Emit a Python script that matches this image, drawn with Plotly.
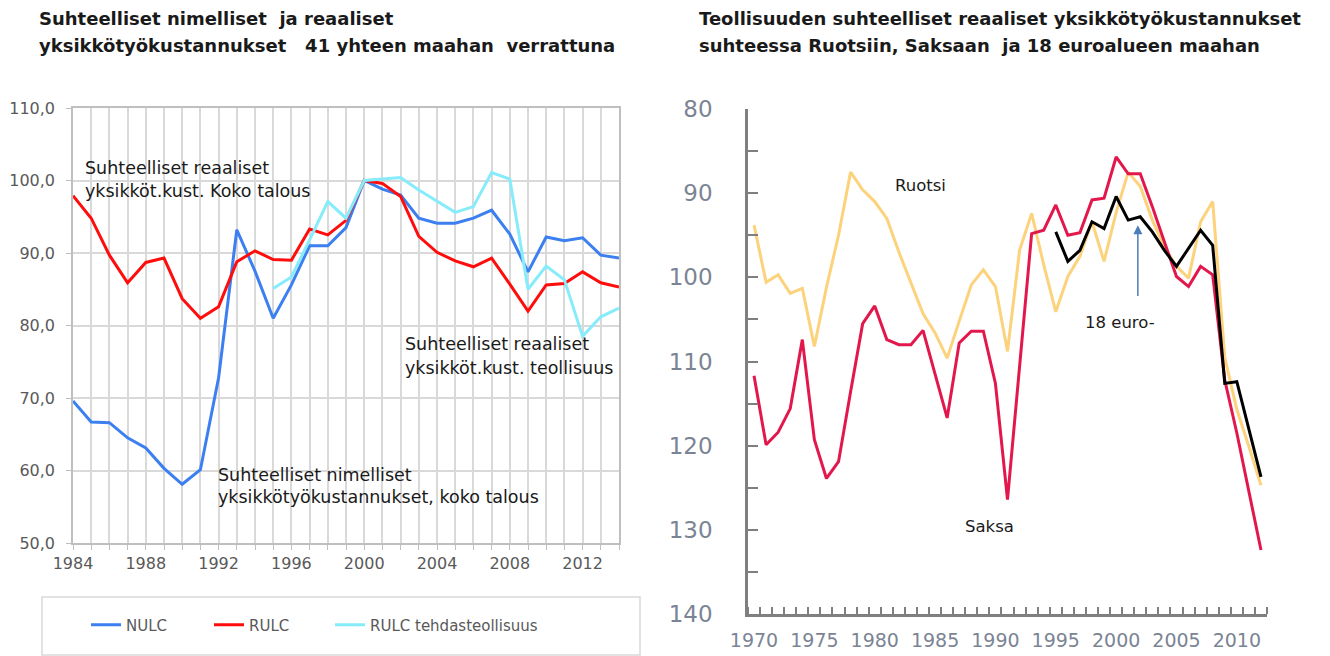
import plotly.graph_objects as go

# ---------------- Left chart data ----------------
years_left = list(range(1984, 2015))
nulc = [69.6, 66.7, 66.6, 64.5, 63.1, 60.3, 58.1, 60.1, 72.8, 93.2, 87.5, 81.0,
        85.6, 91.0, 91.0, 93.5, 100.0, 98.8, 98.0, 94.8, 94.1, 94.1, 94.8, 95.9,
        92.6, 87.4, 92.2, 91.7, 92.1, 89.7, 89.3]
rulc = [97.9, 94.8, 89.7, 85.9, 88.7, 89.3, 83.7, 81.0, 82.6, 88.8, 90.3, 89.1,
        89.0, 93.3, 92.5, 94.5, 100.0, 99.6, 97.8, 92.3, 90.1, 88.9, 88.1, 89.3,
        85.7, 82.0, 85.6, 85.8, 87.4, 85.9, 85.3]
years_teh = list(range(1995, 2015))
rulc_teh = [85.1, 86.7, 91.8, 97.1, 94.8, 100.0, 100.2, 100.4, 98.7, 97.1, 95.6,
            96.4, 101.1, 100.2, 85.0, 88.2, 86.3, 78.5, 81.2, 82.4]
left_yticks = [50, 60, 70, 80, 90, 100, 110]
left_yticktext = ["50,0", "60,0", "70,0", "80,0", "90,0", "100,0", "110,0"]
left_xticks = [1984, 1988, 1992, 1996, 2000, 2004, 2008, 2012]

# ---------------- Right chart data ----------------
years_right = list(range(1970, 2013))
saksa = [111.7, 119.9, 118.4, 115.6, 107.4, 119.3, 123.9, 121.9, 113.6, 105.5,
         103.4, 107.4, 108.0, 108.0, 106.3, 111.4, 116.7, 107.8, 106.4, 106.4,
         112.6, 126.4, 110.5, 94.8, 94.4, 91.4, 95.0, 94.7, 90.8, 90.6,
         85.7, 87.7, 87.7, 91.6, 95.8, 99.9, 101.1, 98.7, 99.7, 112.2,
         118.5, 125.4, 132.4]
ruotsi = [93.8, 100.6, 99.7, 101.9, 101.3, 108.2, 101.2, 95.0, 87.5, 89.6,
          91.0, 93.0, 97.0, 100.7, 104.3, 106.6, 109.6, 105.2, 100.9, 99.1,
          101.1, 108.8, 96.8, 92.4, 98.5, 104.1, 99.9, 97.5, 93.4, 98.1,
          92.3, 87.5, 89.2, 93.2, 96.4, 98.7, 100.1, 93.4, 91.0, 109.5,
          115.7, 120.1, 124.7]
years_euro = list(range(1995, 2013))
euro18 = [94.6, 98.1, 96.8, 93.4, 94.2, 90.4, 93.2, 92.8, 94.6, 96.8,
          98.7, 96.5, 94.4, 96.2, 112.6, 112.4, 118.1, 123.7]
right_yticks = [80, 90, 100, 110, 120, 130, 140]
right_xticks = [1970, 1975, 1980, 1985, 1990, 1995, 2000, 2005, 2010]

W, H = 1330, 656
def px(x):
    return x / W
def py(y):
    return 1 - y / H

FONT = "DejaVu Sans"
fig = go.Figure()

fig.add_trace(go.Scatter(x=years_left, y=nulc, mode="lines", name="NULC", legend="legend",
                         line=dict(color="#3b7ff0", width=3), xaxis="x", yaxis="y"))
fig.add_trace(go.Scatter(x=years_left, y=rulc, mode="lines", name="RULC", legend="legend2",
                         line=dict(color="#ff0d0d", width=3), xaxis="x", yaxis="y"))
fig.add_trace(go.Scatter(x=years_teh, y=rulc_teh, mode="lines", name="RULC tehdasteollisuus",
                         legend="legend3",
                         line=dict(color="#86ecfb", width=3), xaxis="x", yaxis="y"))

fig.add_trace(go.Scatter(x=years_right, y=ruotsi, mode="lines", name="Ruotsi", showlegend=False,
                         line=dict(color="#fdd27c", width=3), xaxis="x2", yaxis="y2"))
fig.add_trace(go.Scatter(x=years_right, y=saksa, mode="lines", name="Saksa", showlegend=False,
                         line=dict(color="#e2184c", width=3), xaxis="x2", yaxis="y2"))
fig.add_trace(go.Scatter(x=years_euro, y=euro18, mode="lines", name="18 euroalueen maata",
                         showlegend=False, line=dict(color="#000000", width=3),
                         xaxis="x2", yaxis="y2"))

grid = "#d9d9d9"
leg_common = dict(orientation="h", xanchor="left", yanchor="middle", y=py(625),
                  font=dict(size=15, color="#595959", family=FONT),
                  bgcolor="rgba(0,0,0,0)", borderwidth=0, itemwidth=30)
fig.update_layout(
    width=W, height=H,
    margin=dict(l=0, r=0, t=0, b=0, pad=0),
    paper_bgcolor="white", plot_bgcolor="rgba(0,0,0,0)",
    font=dict(family=FONT, color="#595959"),
    xaxis=dict(domain=[px(73), px(619)], range=[1984, 2014], tickvals=left_xticks,
               showgrid=True, gridcolor=grid, gridwidth=1.5, zeroline=False,
               ticks="outside", ticklen=5, tickcolor="#bfbfbf", automargin=False,
               minor=dict(dtick=1, tick0=1984, showgrid=True, gridcolor=grid, gridwidth=1.5,
                          ticks="outside", ticklen=5, tickcolor="#bfbfbf"),
               showline=True, linecolor="#bfbfbf", linewidth=1.5, mirror=True,
               tickfont=dict(size=16, color="#595959"), anchor="y"),
    yaxis=dict(domain=[py(543), py(108)], range=[50, 110], tickvals=left_yticks,
               ticktext=left_yticktext, showgrid=True, gridcolor=grid, gridwidth=1.5,
               zeroline=False, ticks="outside", ticklen=5, tickcolor="#bfbfbf",
               showline=True, linecolor="#bfbfbf", linewidth=1.5, mirror=True,
               automargin=False, ticklabelstandoff=8,
               tickfont=dict(size=16, color="#595959"), anchor="x"),
    xaxis2=dict(domain=[px(748), px(1267)], range=[1969.5, 2012.5], tickvals=right_xticks,
                ticks="", showgrid=False, zeroline=False, automargin=False,
                minor=dict(tick0=1969.5, dtick=1, ticks="inside", ticklen=7,
                           tickcolor="#7f7f7f", tickwidth=1.5, showgrid=False),
                showline=True, linecolor="#7f7f7f", linewidth=2.5,
                tickfont=dict(size=19, color="#7b8494"), ticklabelstandoff=7, anchor="y2"),
    yaxis2=dict(domain=[py(614), py(109)], range=[140, 80], tickvals=right_yticks,
                ticks="inside", ticklen=10, tickcolor="#7f7f7f", tickwidth=2,
                minor=dict(tick0=85, dtick=10, ticks="inside", ticklen=10,
                           tickcolor="#7f7f7f", tickwidth=2, showgrid=False),
                showgrid=False, zeroline=False, showline=True, linecolor="#7f7f7f",
                linewidth=2.5, tickfont=dict(size=23, color="#7b8494"), automargin=False,
                ticklabelstandoff=28, anchor="x2"),
    legend=dict(x=px(86), **leg_common),
    legend2=dict(x=px(209), **leg_common),
    legend3=dict(x=px(330), **leg_common),
    showlegend=True,
)

# legend frame
fig.add_shape(type="rect", xref="paper", yref="paper", x0=px(42), x1=px(640),
              y0=py(655), y1=py(597), line=dict(color="#d9d9d9", width=1.5))

NBSP = "\u00a0"
annots = [
    # titles
    ("<b>Suhteelliset nimelliset" + NBSP + " ja reaaliset</b>", 37, 18, 18),
    ("<b>yksikkötyökustannukset" + NBSP * 2 + " 41 yhteen maahan" + NBSP + " verrattuna</b>", 37, 45, 18),
    ("<b>Teollisuuden suhteelliset reaaliset yksikkötyökustannukset</b>", 697, 18, 18),
    ("<b>suhteessa Ruotsiin, Saksaan" + NBSP + " ja 18 euroalueen maahan</b>", 697, 45, 18),
    # left chart labels
    ("Suhteelliset reaaliset", 83, 168, 17.5),
    ("yksikköt.kust. Koko talous", 83, 191, 17.5),
    ("Suhteelliset reaaliset", 403, 344, 17.5),
    ("yksikköt.kust. teollisuus", 403, 368, 17.5),
    ("Suhteelliset nimelliset", 216, 475, 17.5),
    ("yksikkötyökustannukset, koko talous", 216, 497, 17.5),
]
for text, x, y, size in annots:
    fig.add_annotation(text=text, xref="paper", yref="paper", x=px(x), y=py(y),
                       xanchor="left", yanchor="middle", showarrow=False,
                       font=dict(size=size, color="#1a1a1a", family=FONT))

# right chart labels
for text, xv, yv in [("Ruotsi", 1983.8, 89.1), ("Saksa", 1989.5, 129.6), ("18 euro-", 2000.3, 105.4)]:
    fig.add_annotation(text=text, xref="x2", yref="y2", x=xv, y=yv, showarrow=False,
                       xanchor="center", yanchor="middle",
                       font=dict(size=16.5, color="#1a1a1a", family=FONT))
fig.add_annotation(text="", xref="x2", yref="y2", x=2001.8, y=93.8,
                   ax=2001.8, ay=102.4, axref="x2", ayref="y2", showarrow=True,
                   arrowhead=2, arrowsize=1.2, arrowwidth=1.5, arrowcolor="#4a7ebb")

fig.write_html("out.html", config={"displayModeBar": False},
               post_script="document.body.style.margin='0px';")
